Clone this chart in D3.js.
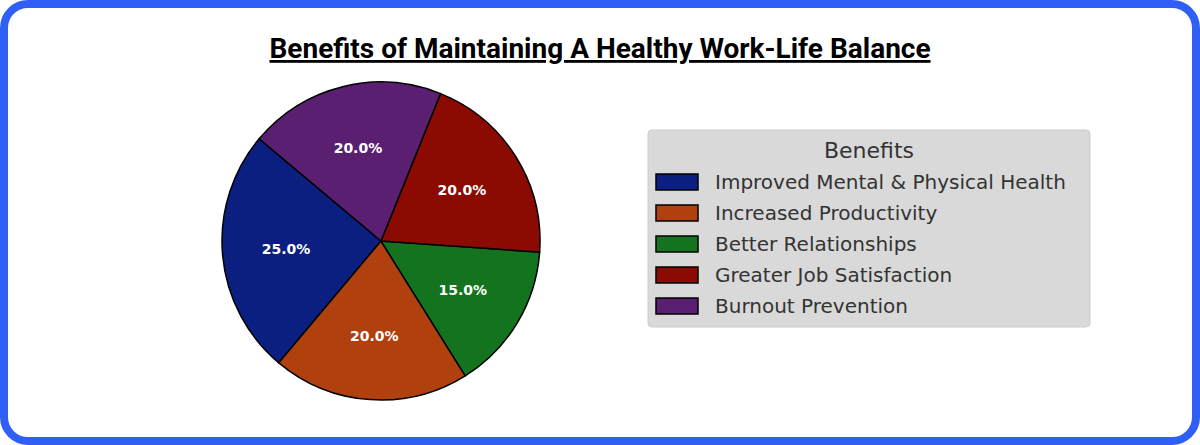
<!DOCTYPE html>
<html><head><meta charset="utf-8">
<script src="https://cdn.jsdelivr.net/npm/d3@7"></script>
<style>
html,body{margin:0;padding:0;background:#fff;}
</style></head>
<body>
<svg id="chart" width="1200" height="445"></svg>
<script>
var categories = ["Improved Mental & Physical Health", "Increased Productivity", "Better Relationships", "Greater Job Satisfaction", "Burnout Prevention"];
var values = [25, 20, 15, 20, 20];
var colors = ["#0a1f80", "#b0400e", "#14731f", "#8b0a02", "#5a1f70"];

var svg = d3.select("#chart");

// frame
svg.append("rect").attr("x", 4).attr("y", 4).attr("width", 1192).attr("height", 437)
	.attr("rx", 24).attr("fill", "#fff").attr("stroke", "#2f5ff5").attr("stroke-width", 8);

svg.append("text").attr("x", 600).attr("y", 58).attr("text-anchor", "middle")
	.attr("font-family", "Roboto").attr("font-weight", "bold").attr("font-size", 28)
	.attr("text-decoration", "underline").attr("fill", "#000")
	.text("Benefits of Maintaining A Healthy Work-Life Balance");

var cx = 381, cy = 241, r = 159;
var total = d3.sum(values);

// counterclockwise from 140deg (matplotlib style)
var start = (90 - 140) * Math.PI / 180;
var pie = d3.pie().sort(null).startAngle(start).endAngle(start - 2 * Math.PI);
var arcs = pie(values);
var arc = d3.arc().innerRadius(0).outerRadius(r);
var labelArc = d3.arc().innerRadius(r * 0.6).outerRadius(r * 0.6);

var g = svg.append("g").attr("transform", "translate(" + cx + "," + cy + ")");
g.selectAll("path").data(arcs).enter().append("path")
	.attr("d", arc)
	.attr("fill", function(d, i){ return colors[i]; })
	.attr("stroke", "#000").attr("stroke-width", 1.5);

g.selectAll("text").data(arcs).enter().append("text")
	.attr("transform", function(d){ return "translate(" + labelArc.centroid(d) + ")"; })
	.attr("text-anchor", "middle").attr("dy", "0.35em")
	.attr("font-family", "DejaVu Sans").attr("font-weight", "bold").attr("font-size", 14)
	.attr("fill", "#fff")
	.text(function(d){ return (d.value / total * 100).toFixed(1) + "%"; });

// legend
var lg = svg.append("g").attr("transform", "translate(648,130)");
lg.append("rect").attr("width", 442).attr("height", 197).attr("rx", 4)
	.attr("fill", "#d9d9d9").attr("stroke", "#cccccc");
lg.append("text").attr("x", 221).attr("y", 28).attr("text-anchor", "middle")
	.attr("font-family", "DejaVu Sans").attr("font-size", 22).attr("fill", "#333")
	.text("Benefits");

var item = lg.selectAll("g.item").data(categories).enter().append("g")
	.attr("class", "item")
	.attr("transform", function(d, i){ return "translate(0," + (52 + i * 31) + ")"; });
item.append("rect").attr("x", 8).attr("y", -8).attr("width", 42).attr("height", 16)
	.attr("fill", function(d, i){ return colors[i]; }).attr("stroke", "#000").attr("stroke-width", 1.5);
item.append("text").attr("x", 67).attr("dy", "0.35em")
	.attr("font-family", "DejaVu Sans").attr("font-size", 20).attr("fill", "#333")
	.text(function(d){ return d; });
</script>
</body></html>
